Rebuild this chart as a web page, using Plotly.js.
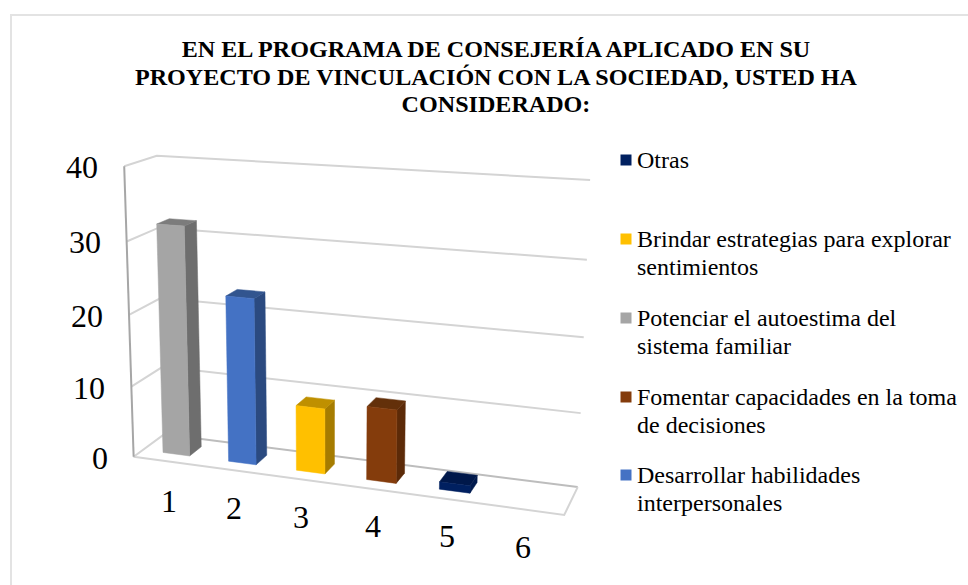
<!DOCTYPE html>
<html><head><meta charset="utf-8">
<script src="https://cdn.plot.ly/plotly-3.0.1.min.js"></script>
<style>html,body{margin:0;padding:0;background:#fff}#c{width:968px;height:585px}</style></head>
<body><div id="c"></div>
<script>
// ---- data ----
const categories = [1, 2, 3, 4, 5, 6];
const values = [32, 23, 9, 10, 1];
const barColors = ['#A5A5A5', '#4472C4', '#FFC000', '#843C0C', '#002060'];
const sideColors = ['#6E6E6E', '#2B4A80', '#A67C00', '#5C2A08', '#001A4D'];
const topColors = ['#7C7C7C', '#32558F', '#BF9000', '#63300A', '#00184A'];
const valueTicks = [0, 10, 20, 30, 40];
const legendNames = ['Otras', 'Brindar estrategias para explorar<br>sentimientos', 'Potenciar el autoestima del<br>sistema familiar', 'Fomentar capacidades en la toma<br>de decisiones', 'Desarrollar habilidades<br>interpersonales'];
const legendColors = ['#002060', '#FFC000', '#A5A5A5', '#843C0C', '#4472C4'];
const legendRows = [160, 239, 318, 397, 475];
const titleText = 'EN EL PROGRAMA DE CONSEJERÍA APLICADO EN SU<br>PROYECTO DE VINCULACIÓN CON LA SOCIEDAD, USTED HA<br>CONSIDERADO:';
const catLabelPos = [[169,501],[234,508],[301,517],[373,526],[447,536],[523,547]];

// ---- perspective projection of the chart box (cat, depth, value) onto the page ----
const FONT = '"Liberation Serif","Times New Roman",serif';
const calib = [
  [0,0,0,135,457],[1,0,0,564,515],[0,1,0,163,434],[1,1,0,578,487],
  [0,0,1,123,166],[0,1,1,158,156],[1,1,1,590,180]
];
function solve(A, b){
  const n = b.length, M = A.map((r,i)=>r.concat(b[i]));
  for(let i=0;i<n;i++){
    let p=i; for(let k=i+1;k<n;k++) if(Math.abs(M[k][i])>Math.abs(M[p][i])) p=k;
    [M[i],M[p]]=[M[p],M[i]];
    for(let k=0;k<n;k++){ if(k===i) continue; const f=M[k][i]/M[i][i]; for(let j=i;j<=n;j++) M[k][j]-=f*M[i][j]; }
  }
  return M.map((r,i)=>r[n]/r[i]);
}
const rows=[], rhs=[];
calib.forEach(([u,w,v,x,y])=>{
  rows.push([u,w,v,1,0,0,0,0,-x*u,-x*w,-x*v]); rhs.push(x);
  rows.push([0,0,0,0,u,w,v,1,-y*u,-y*w,-y*v]); rhs.push(y);
});
const AtA = Array.from({length:11},(_,i)=>Array.from({length:11},(_,j)=>rows.reduce((s,r)=>s+r[i]*r[j],0)));
const Atb = Array.from({length:11},(_,i)=>rows.reduce((s,r,k)=>s+r[i]*rhs[k],0));
const m = solve(AtA, Atb);
const yMax = valueTicks[valueTicks.length-1], nCat = categories.length;
function proj(cat, depth, val){
  const u=(cat-0.5)/nCat, w=depth, v=val/yMax;
  const d=m[8]*u+m[9]*w+m[10]*v+1;
  return [(m[0]*u+m[1]*w+m[2]*v+m[3])/d, (m[4]*u+m[5]*w+m[6]*v+m[7])/d];
}
const xLo=0.5, xHi=nCat+0.5;

// ---- traces ----
const traces=[];
function line(pts, color, width){
  traces.push({type:'scatter',mode:'lines',x:pts.map(p=>p[0]),y:pts.map(p=>p[1]),
    line:{color:color,width:width},hoverinfo:'skip',showlegend:false});
}
function face(pts, color, name, val){
  const c=pts.concat([pts[0]]);
  traces.push({type:'scatter',mode:'lines',fill:'toself',fillcolor:color,x:c.map(p=>p[0]),y:c.map(p=>p[1]),
    line:{color:color,width:0.5},name:name,text:String(val),hoverinfo:'name+text',showlegend:false});
}
const GRID='#D4D4D4';
valueTicks.forEach(t=>{
  if(t===0) return;
  line([proj(xLo,0,t),proj(xLo,1,t),proj(xHi,1,t)],GRID,2);
});
line([proj(xLo,1,0),proj(xHi,1,0)],'#BDBDBD',2);
line([proj(xLo,1,0),proj(xLo,0,0),proj(xHi,0,0),proj(xHi,1,0)],GRID,2);
line([proj(xLo,0,yMax),proj(xLo,0,0)],'#A6A6A6',2);

const barLeft=-0.19, barRight=0.22, d0=0.3, d1=0.7;
values.forEach((val,i)=>{
  const c=categories[i], L=c+barLeft, R=c+barRight, n='Categoría '+c;
  face([proj(R,d0,0),proj(R,d1,0),proj(R,d1,val),proj(R,d0,val)],sideColors[i],n,val);
  face([proj(L,d0,val),proj(R,d0,val),proj(R,d1,val),proj(L,d1,val)],topColors[i],n,val);
  face([proj(L,d0,0),proj(R,d0,0),proj(R,d0,val),proj(L,d0,val)],barColors[i],n,val);
});
// legend keys
traces.push({type:'scatter',mode:'markers',x:legendRows.map(()=>626),y:legendRows,
  marker:{symbol:'square',size:11,color:legendColors},hoverinfo:'skip',showlegend:false});

// ---- text ----
const ann=[];
valueTicks.forEach(t=>{
  const p=proj(xLo,0,t);
  ann.push({x:p[0]-24,y:p[1]+1,xref:'x',yref:'y',text:String(t),showarrow:false,xanchor:'right',yanchor:'middle',
    font:{family:FONT,size:32,color:'#000'}});
});
categories.forEach((c,i)=>{
  ann.push({x:catLabelPos[i][0],y:catLabelPos[i][1],xref:'x',yref:'y',text:String(c),showarrow:false,xanchor:'center',yanchor:'middle',
    font:{family:FONT,size:32,color:'#000'}});
});
legendNames.forEach((n,i)=>{
  ann.push({x:635,y:legendRows[i]-15,xref:'x',yref:'y',text:n,showarrow:false,xanchor:'left',yanchor:'top',align:'left',
    font:{family:FONT,size:24,color:'#000'}});
});

const layout={
  width:968,height:585,margin:{l:0,r:0,t:0,b:0},paper_bgcolor:'#fff',plot_bgcolor:'#fff',showlegend:false,
  title:{text:titleText,x:496/968,xanchor:'center',y:1-57/585,yanchor:'top',font:{family:FONT,size:24.1,color:'#000',weight:'bold'}},
  xaxis:{range:[0,968],visible:false,fixedrange:true},
  yaxis:{range:[585,0],visible:false,fixedrange:true},
  shapes:[{type:'rect',xref:'x',yref:'y',x0:11,y0:15,x1:990,y1:610,line:{color:'#E3E3E3',width:2}}],
  annotations:ann
};
Plotly.newPlot('c',traces,layout,{displayModeBar:false,staticPlot:true}).then(()=>{
  // tighter line spacing for the multi-line title and legend text, as in the reference
  document.querySelectorAll('#c .infolayer tspan.line, #c .annotation tspan.line').forEach(t=>{
    const dy=parseFloat(t.getAttribute('dy'));
    if(dy) t.setAttribute('dy',(dy*0.885)+'em');
  });
});
</script></body></html>
